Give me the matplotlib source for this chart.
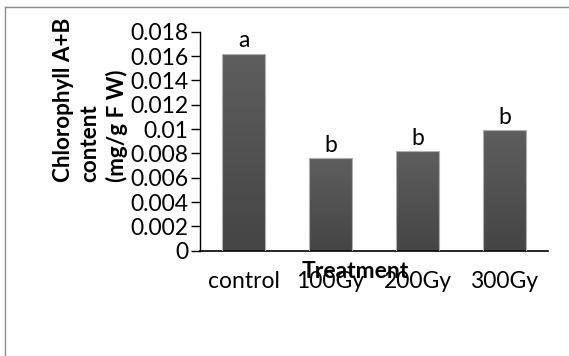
import matplotlib
matplotlib.use("Agg")
import matplotlib.pyplot as plt
import numpy as np
from matplotlib.colors import LinearSegmentedColormap
from matplotlib.lines import Line2D

# values
treatments = ["control", "100Gy", "200Gy", "300Gy"]
chlorophyll = [0.0162, 0.0076, 0.0082, 0.0099]
letters = ["a", "b", "b", "b"]
ytick_vals = [0, 0.002, 0.004, 0.006, 0.008, 0.01, 0.012, 0.014, 0.016, 0.018]
ytick_labels = ["0", "0.002", "0.004", "0.006", "0.008", "0.01",
                "0.012", "0.014", "0.016", "0.018"]

plt.rcParams["font.family"] = ["Lato", "DejaVu Sans"]
FS = 16.5

fig = plt.figure(figsize=(5.69, 3.56), dpi=100, facecolor="white")
ax = fig.add_axes([0.3515, 0.2958, 0.6116, 0.6152])

x = np.arange(len(treatments))
bars = ax.bar(x, chlorophyll, width=0.5, color="none", edgecolor="#b0b0b0",
              linewidth=0.8, zorder=3)

# Excel-style vertical gradient inside each bar
cmap = LinearSegmentedColormap.from_list("bar", ["#454545", "#5e5e5e"])
grad = np.linspace(0, 1, 64).reshape(-1, 1)
for rect in bars:
    x0, w, h = rect.get_x(), rect.get_width(), rect.get_height()
    im = ax.imshow(grad, extent=[x0, x0 + w, 0, h], origin="lower",
                   aspect="auto", cmap=cmap, zorder=2)
    im.set_clip_path(rect)

for xi, v, lab in zip(x, chlorophyll, letters):
    ax.annotate(lab, (xi, v), xytext=(0, 4.5), textcoords="offset points",
                ha="center", va="baseline", fontsize=FS)

ax.set_xlim(-0.5, len(treatments) - 0.5)
ax.set_ylim(0, 0.018)
ax.set_xticks(x)
ax.set_xticklabels(treatments, fontsize=FS)
ax.set_yticks(ytick_vals)
ax.set_yticklabels(ytick_labels, fontsize=FS)
ax.tick_params(axis="x", length=0, pad=14.5)
ax.tick_params(axis="y", length=6.5, width=1.0, pad=2, direction="out")

for s in ("top", "right"):
    ax.spines[s].set_visible(False)
ax.spines["left"].set_linewidth(1.0)
ax.spines["bottom"].set_linewidth(1.2)

fig.text(355 / 569, (356 - 278) / 356, "Treatment", ha="center",
         va="baseline", fontsize=FS, fontweight="bold")
fig.text(53 / 569, (356 - 182) / 356, "Chlorophyll A+B\ncontent\n(mg/g F W)",
         rotation=90, ha="left", va="bottom", multialignment="left",
         fontsize=16.2, fontweight="bold", linespacing=1.32)

# frame lines of the embedded chart
fig.add_artist(Line2D([5 / 569, 5 / 569], [0, (356 - 7) / 356],
                      transform=fig.transFigure, color="#8c8c8c", lw=1.0))
fig.add_artist(Line2D([5 / 569, 1], [(356 - 7) / 356, (356 - 7) / 356],
                      transform=fig.transFigure, color="#8c8c8c", lw=1.0))

fig.savefig("out.png", dpi=100, facecolor="white")
